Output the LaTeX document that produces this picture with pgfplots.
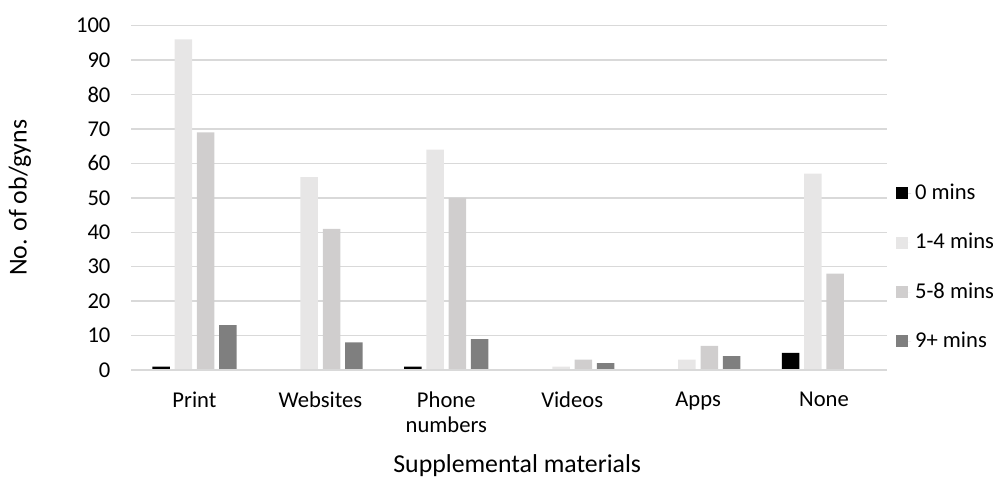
\documentclass[border=0pt]{standalone}
\usepackage{fontspec}
\setmainfont{Carlito}
\usepackage{pgfplots}
\pgfplotsset{compat=1.18}
\definecolor{gridc}{HTML}{D9D9D9}
\definecolor{cA}{HTML}{000000}
\definecolor{cB}{HTML}{E7E6E6}
\definecolor{cC}{HTML}{D0CECE}
\definecolor{cD}{HTML}{7F7F7F}
\begin{document}
\begin{tikzpicture}
\useasboundingbox (-65.75pt,-55pt) rectangle (430.75pt,185pt);
\begin{axis}[
  scale only axis,
  width=377.75pt, height=172.15pt,
  ybar=2.4pt, bar width=8.75pt,
  xmin=-0.5, xmax=5.5,
  ymin=0, ymax=100,
  ytick={0,10,...,100},
  xtick=data,
  xticklabels={Print,Websites,{Phone\\numbers},Videos,Apps,None},
  xticklabel style={align=center, font=\fontsize{11.3pt}{12.5pt}\selectfont},
  yticklabel style={font=\fontsize{11.3pt}{12.5pt}\selectfont},
  /pgf/number format/assume math mode=true,
  yticklabel shift=7pt,
  xticklabel shift=7.5pt,
  major tick length=0pt,
  axis line style={draw=none},
  axis x line*=bottom,
  axis y line*=left,
  ymajorgrids, grid style={gridc, line width=0.7pt},
  xlabel={Supplemental materials},
  ylabel={No. of ob/gyns},
  xlabel style={font=\fontsize{12.9pt}{14pt}\selectfont, at={(axis description cs:0.5,0)}, anchor=center, yshift=-48pt, xshift=4pt},
  ylabel style={font=\fontsize{12.9pt}{14pt}\selectfont, at={(axis description cs:-0.1476,0.5)}, anchor=center},
  legend style={draw=none, fill=none, at={(1.0115,0.298)}, anchor=west,
    font=\fontsize{11.3pt}{12.5pt}\selectfont, row sep=11.4pt, inner sep=0pt},
  legend cell align=left,
  legend image code/.code={\fill[#1] (0pt,-3pt) rectangle (6pt,3pt); \path (0pt,0pt) -- (7.5pt,0pt);},
]
\addplot[draw=none, fill=cA] coordinates {(0,1) (1,0) (2,1) (3,0) (4,0) (5,5)};
\addplot[draw=none, fill=cB] coordinates {(0,96) (1,56) (2,64) (3,1) (4,3) (5,57)};
\addplot[draw=none, fill=cC] coordinates {(0,69) (1,41) (2,50) (3,3) (4,7) (5,28)};
\addplot[draw=none, fill=cD] coordinates {(0,13) (1,8) (2,9) (3,2) (4,4) (5,0)};
\legend{0 mins,1-4 mins,5-8 mins,9+ mins}
\draw[gridc, line width=0.7pt] (rel axis cs:0,0) -- (rel axis cs:1,0);
\end{axis}
\end{tikzpicture}
\end{document}
